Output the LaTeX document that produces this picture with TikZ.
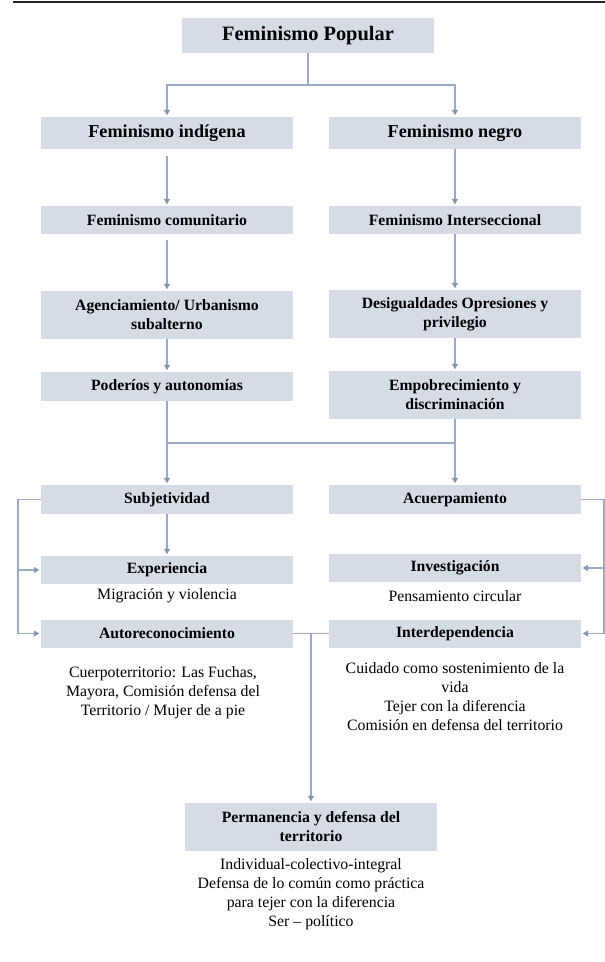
\documentclass[tikz,border=0pt]{standalone}
\usepackage{fontspec}
\setmainfont{Liberation Serif}
\usetikzlibrary{arrows.meta}
\definecolor{boxfill}{HTML}{D6DCE5}
\definecolor{linec}{HTML}{9AABC3}
\definecolor{tipc}{HTML}{8496B0}
\tikzset{
  box/.style={fill=boxfill, draw=none, minimum width=252pt, inner sep=0pt, align=center, font=\fontsize{15.7}{19}\selectfont\bfseries},
  bigbox/.style={box, font=\fontsize{18.2}{21}\selectfont\bfseries},
  topbox/.style={box, font=\fontsize{20.4}{24}\selectfont\bfseries},
  plain/.style={align=center, inner sep=0pt, font=\fontsize{15.8}{19.2}\selectfont},
  conn/.style={draw=linec, line width=1.1pt},
  arr/.style={conn, -{Triangle[width=6pt,length=5.5pt,color=tipc]}, shorten >=1.5pt}
}
\begin{document}
\begin{tikzpicture}[x=1pt,y=-1pt]
\useasboundingbox (0,0) rectangle (605,962);
\fill[white] (0,0) rectangle (605,962);
\draw[line width=2pt, black!85] (13,1.5) -- (605,1.5);

% boxes
\node[topbox, minimum height=35pt] (pop) at (308,35.5) {Feminismo Popular};
\node[bigbox, minimum height=32pt] (ind) at (167,133) {Feminismo indígena};
\node[bigbox, minimum height=32pt] (neg) at (455,133) {Feminismo negro};
\node[box, minimum height=28pt] (com) at (167,220) {Feminismo comunitario};
\node[box, minimum height=28pt] (int) at (455,220) {Feminismo Interseccional};
\node[box, minimum height=48pt] (age) at (167,315) {Agenciamiento/ Urbanismo\\subalterno};
\node[box, minimum height=48pt] (des) at (455,314) {Desigualdades Opresiones y\\privilegio};
\node[box, minimum height=29pt] (pod) at (167,386.5) {Poderíos y autonomías};
\node[box, minimum height=48pt] (emp) at (455,395) {Empobrecimiento y\\discriminación};
\node[box, minimum height=29pt] (sub) at (167,499.5) {Subjetividad};
\node[box, minimum height=29pt] (acu) at (455,499.5) {Acuerpamiento};
\node[box, minimum height=28pt] (exp) at (167,570) {Experiencia};
\node[box, minimum height=28pt] (inv) at (455,568) {Investigación};
\node[box, minimum height=28pt] (aut) at (167,633.5) {Autoreconocimiento};
\node[box, minimum height=28pt] (itd) at (455,633.5) {Interdependencia};
\node[box, minimum height=48pt] (per) at (311,827) {Permanencia y defensa del\\territorio};

% plain texts
\node[plain] (t1) at (167,596) {Migración y violencia};
\node[plain] (t2) at (455,596) {Pensamiento circular};
\node[plain] (t3) at (163,692.5) {Cuerpoterritorio: Las Fuchas,\\Mayora, Comisión defensa del\\Territorio / Mujer de a pie};
\node[plain] (t4) at (455,696.5) {Cuidado como sostenimiento de la\\vida\\Tejer con la diferencia\\Comisión en defensa del territorio};
\node[plain] (t5) at (311,894) {Individual-colectivo-integral\\Defensa de lo común como práctica\\para tejer con la diferencia\\Ser – político};

% junction coordinates
\coordinate (j1) at (308,85);
\coordinate (j2) at (167,443);
\coordinate (j3) at (455,443);
\coordinate (lb) at (18,499.5);
\coordinate (rb) at (604,499.5);
\coordinate (j4) at (311,633.5);

% connectors
\draw[conn] (pop.south) -- (j1);
\draw[arr] (j1) -| (ind.north);
\draw[arr] (j1) -| (neg.north);
\draw[arr, shorten <=7pt] (ind.south) -- (com.north);
\draw[arr] (neg.south) -- (int.north);
\draw[arr, shorten <=6pt] (com.south) -- (age.north);
\draw[arr] (int.south) -- (des.north);
\draw[arr] (age.south) -- (pod.north);
\draw[arr] (des.south) -- (emp.north);
\draw[arr] (pod.south) -- (sub.north);
\draw[arr] (emp.south) -- (acu.north);
\draw[conn] (j2) -- (j3);
\draw[arr] (sub.south) -- (exp.north);
\draw[arr] (sub.west) -- (lb) |- (aut.west);
\draw[arr] (lb |- exp.west) -- (exp.west);
\draw[arr] (acu.east) -- (rb) |- (itd.east);
\draw[arr] (rb |- inv.east) -- (inv.east);
\draw[conn] (aut.east) -- (itd.west);
\draw[arr] (j4) -- (per.north);
\end{tikzpicture}
\end{document}
